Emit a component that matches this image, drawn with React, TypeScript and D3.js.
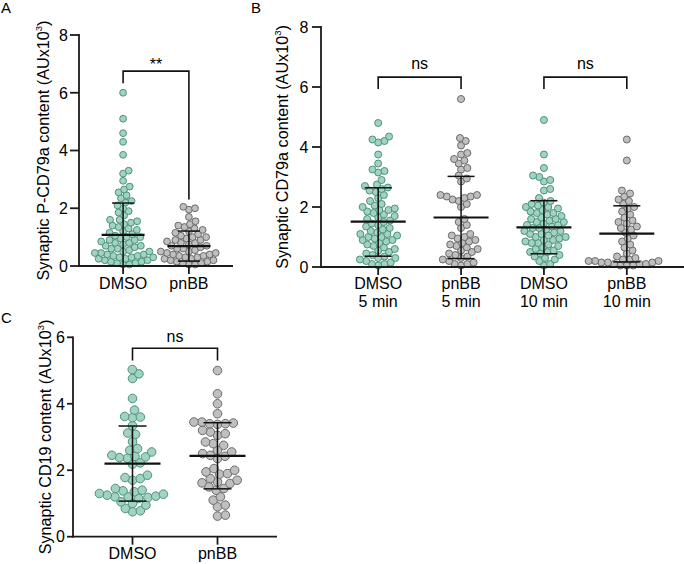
import React from "react";
import * as d3 from "d3";

const W = 684;
const H = 564;
const FONT = "'Liberation Sans', Arial, Helvetica, sans-serif";
const TEAL_FILL = "#a0d3c1";
const TEAL_STROKE = "#4f917b";
const GRAY_FILL = "#bfbfbf";
const GRAY_STROKE = "#6a6a6a";

// ---------- Panel A ----------
const catsA = ["DMSO", "pnBB"];
const aDMSO = [
  6.0, 5.1, 4.6, 4.3, 3.85, 3.3, 3.2, 2.95, 2.75, 2.65, 2.55, 2.45, 2.35, 2.25, 2.2, 2.1, 2.0, 1.9, 1.85,
  1.75, 1.6, 1.6, 1.55, 1.5, 1.45, 1.4, 1.35, 1.3, 1.25, 1.2, 1.15, 1.1, 1.05, 1.0, 1.0,
  0.95, 0.9, 0.9, 0.85, 0.8, 0.8, 0.75, 0.7, 0.7, 0.65, 0.6, 0.6, 0.55, 0.5, 0.5,
  0.45, 0.45, 0.4, 0.4, 0.35, 0.35, 0.3, 0.3, 0.3, 0.25, 0.25, 0.2, 0.2, 0.15, 0.15, 0.1, 0.1, 0.05, 0.05,
];
const aPNBB = [
  2.05, 2.0, 1.95, 1.7, 1.55, 1.45, 1.4, 1.35, 1.3, 1.25, 1.2, 1.15, 1.1, 1.05, 1.0, 1.0, 0.95, 0.9, 0.9,
  0.85, 0.8, 0.8, 0.75, 0.7, 0.7, 0.65, 0.6, 0.6, 0.55, 0.5, 0.5, 0.45, 0.45, 0.4, 0.4, 0.35, 0.35, 0.3,
  0.3, 0.25, 0.25, 0.2, 0.2, 0.15, 0.15, 0.1, 0.1, 0.05, 0.05,
];
const aMean = [1.08, 0.69];
const aSdLow = [0.0, 0.17];
const aSdHigh = [2.18, 1.21];
const aTicks = [0, 2, 4, 6, 8];

// ---------- Panel B ----------
const catsB = ["DMSO|5 min", "pnBB|5 min", "DMSO|10 min", "pnBB|10 min"];
const bDMSO5 = [
  4.8, 4.35, 4.25, 4.2, 4.15, 3.75, 3.45, 3.25, 3.2, 3.15, 2.9, 2.75, 2.7, 2.65, 2.6, 2.55, 2.5, 2.4,
  2.3, 2.2, 2.1, 2.05, 2.0, 1.95, 1.9, 1.9, 1.85, 1.8, 1.75, 1.7, 1.65, 1.6, 1.55, 1.5, 1.45, 1.4, 1.35,
  1.3, 1.25, 1.2, 1.15, 1.1, 1.1, 1.05, 1.0, 1.0, 0.95, 0.9, 0.9, 0.85, 0.8, 0.75, 0.7, 0.65, 0.6, 0.55,
  0.5, 0.45, 0.4, 0.35, 0.3, 0.3, 0.25, 0.2, 0.15, 0.1, 0.1, 0.05,
];
const bPNBB5 = [
  5.6, 4.3, 4.2, 4.05, 3.8, 3.75, 3.6, 3.55, 3.45, 3.3, 3.25, 3.05, 2.95, 2.85, 2.4, 2.4, 2.35, 2.35,
  2.3, 2.25, 2.2, 2.1, 2.0, 1.6, 1.5, 1.4, 1.3, 1.1, 1.05, 1.0, 0.95, 0.9, 0.85, 0.8, 0.75, 0.7, 0.65,
  0.6, 0.55, 0.5, 0.45, 0.4, 0.35, 0.3, 0.25, 0.2, 0.15, 0.1, 0.1, 0.05,
];
const bDMSO10 = [
  4.9, 3.75, 3.3, 3.05, 3.0, 2.9, 2.85, 2.6, 2.55, 2.3, 2.2, 2.15, 2.1, 2.05, 2.0, 2.0, 1.95, 1.9, 1.85,
  1.8, 1.8, 1.75, 1.7, 1.65, 1.6, 1.6, 1.55, 1.5, 1.5, 1.45, 1.4, 1.4, 1.35, 1.3, 1.3, 1.25, 1.2, 1.2,
  1.15, 1.1, 1.1, 1.05, 1.0, 1.0, 0.95, 0.9, 0.9, 0.85, 0.8, 0.8, 0.75, 0.7, 0.65, 0.6, 0.55, 0.5, 0.5,
  0.45, 0.4, 0.35, 0.3, 0.25, 0.2, 0.1, 0.05,
];
const bPNBB10 = [
  4.25, 3.55, 2.55, 2.45, 2.35, 2.25, 2.2, 2.1, 2.0, 1.95, 1.85, 1.75, 1.65, 1.55, 1.5, 1.45, 1.35, 1.3,
  1.25, 1.15, 1.05, 0.95, 0.85, 0.75, 0.65, 0.55, 0.45, 0.35, 0.3, 0.25, 0.25, 0.2, 0.2, 0.2, 0.15, 0.15,
  0.15, 0.1, 0.1, 0.1, 0.05, 0.05, 0.05,
];
const bMean = [1.51, 1.65, 1.32, 1.11];
const bSdLow = [0.36, 0.28, 0.44, 0.17];
const bSdHigh = [2.64, 3.02, 2.21, 2.04];
const bTicks = [0, 2, 4, 6, 8];

// ---------- Panel C ----------
const catsC = ["DMSO", "pnBB"];
const cDMSO = [
  5.03, 4.9, 4.76, 4.16, 3.81, 3.62, 3.6, 3.58, 3.34, 3.12, 3.08, 2.86, 2.65, 2.6, 2.55, 2.45, 2.42,
  2.4, 2.38, 2.36, 2.22, 2.18, 1.85, 1.78, 1.75, 1.7, 1.45, 1.4, 1.38, 1.35, 1.3, 1.28, 1.25, 1.22, 1.2,
  1.2, 1.18, 1.15, 1.05, 1.0, 0.95, 0.85, 0.78, 0.75,
];
const cPNBB = [
  5.0, 4.3, 4.0, 3.7, 3.45, 3.45, 3.42, 3.4, 3.4, 3.38, 3.2, 3.15, 3.1, 3.05, 2.85, 2.8, 2.75, 2.6,
  2.55, 2.5, 2.45, 2.42, 2.35, 2.05, 2.0, 1.95, 1.9, 1.88, 1.75, 1.7, 1.65, 1.62, 1.6, 1.5, 1.45, 1.4,
  1.2, 1.1, 0.95, 0.9, 0.65, 0.62,
];
const cMean = [2.2, 2.43];
const cSdLow = [1.07, 1.44];
const cSdHigh = [3.33, 3.43];
const cTicks = [0, 2, 4, 6];

type Pt = { x: number; y: number };

function swarm(values: number[], y: d3.ScaleLinear<number, number>, cx: number, spacing: number): Pt[] {
  const sorted = [...values].sort((a, b) => a - b);
  const placed: Pt[] = [];
  for (const v of sorted) {
    const py = y(v);
    const near = placed.filter((q) => Math.abs(q.y - py) < spacing);
    const cands = [0];
    for (const q of near) {
      const dy = q.y - py;
      const dx = Math.sqrt(Math.max(0, spacing * spacing - dy * dy));
      cands.push(q.x - cx + dx + 0.01, q.x - cx - dx - 0.01);
    }
    cands.sort((a, b) => Math.abs(a) - Math.abs(b));
    let best = 0;
    for (const c of cands) {
      const ok = near.every((q) => Math.hypot(q.x - (cx + c), q.y - py) >= spacing - 0.001);
      if (ok) {
        best = c;
        break;
      }
    }
    placed.push({ x: cx + best, y: py });
  }
  return placed;
}

type Bracket = {
  from: number;
  to: number;
  top: number;
  leftEnd: number;
  rightEnd: number;
  label: string;
  gap: number;
};

type PanelProps = {
  letter: string;
  letterX: number;
  letterY: number;
  cats: string[];
  groups: number[][];
  means: number[];
  sdLow: number[];
  sdHigh: number[];
  colors: { fill: string; stroke: string }[];
  ticks: number[];
  yTop: number;
  yBottom: number;
  xLeft: number;
  xRight: number;
  padding: number;
  r: number;
  meanHalf: number;
  capHalf: number;
  title: string;
  titleX: number;
  catGap: number;
  tickLen: number;
  labelGap: number;
  brackets: Bracket[];
};

const TICK_FS = 16;
const TITLE_FS = 16.2;

function Panel(p: PanelProps) {
  const yMax = p.ticks[p.ticks.length - 1];
  const y = d3.scaleLinear().domain([0, yMax]).range([p.yBottom, p.yTop]);
  const x = d3.scalePoint<string>().domain(p.cats).range([p.xLeft, p.xRight]).padding(p.padding);
  const axisColor = "#1a1a1a";
  const titleCenter = (p.yTop + p.yBottom) / 2;
  return (
    <g>
      <text x={p.letterX} y={p.letterY} fontSize={15} fontFamily={FONT} fill="#000">
        {p.letter}
      </text>
      {/* points */}
      {p.groups.map((vals, gi) => {
        const cx = x(p.cats[gi]) as number;
        const pts = swarm(vals, y, cx, p.r * 2 * 0.92);
        return (
          <g key={gi}>
            {pts.map((pt, i) => (
              <circle
                key={i}
                cx={pt.x}
                cy={pt.y}
                r={p.r}
                fill={p.colors[gi].fill}
                stroke={p.colors[gi].stroke}
                strokeWidth={1}
              />
            ))}
          </g>
        );
      })}
      {/* mean and SD */}
      {p.cats.map((c, gi) => {
        const cx = x(c) as number;
        return (
          <g key={c} stroke="#111" fill="none">
            <line x1={cx} x2={cx} y1={y(p.sdLow[gi])} y2={y(p.sdHigh[gi])} strokeWidth={1.5} />
            <line x1={cx - p.capHalf} x2={cx + p.capHalf} y1={y(p.sdLow[gi])} y2={y(p.sdLow[gi])} strokeWidth={1.5} />
            <line x1={cx - p.capHalf} x2={cx + p.capHalf} y1={y(p.sdHigh[gi])} y2={y(p.sdHigh[gi])} strokeWidth={1.5} />
            <line x1={cx - p.meanHalf} x2={cx + p.meanHalf} y1={y(p.means[gi])} y2={y(p.means[gi])} strokeWidth={2.2} />
          </g>
        );
      })}
      {/* y axis */}
      <line x1={p.xLeft} x2={p.xLeft} y1={y(yMax) - 0.9} y2={y(0) + 0.9} stroke={axisColor} strokeWidth={1.8} />
      {p.ticks.map((t) => (
        <g key={t}>
          <line x1={p.xLeft - p.tickLen} x2={p.xLeft} y1={y(t)} y2={y(t)} stroke={axisColor} strokeWidth={1.8} />
          <text
            x={p.xLeft - p.labelGap}
            y={y(t)}
            dy="0.36em"
            textAnchor="end"
            fontSize={TICK_FS}
            fontFamily={FONT}
            fill="#000"
          >
            {t}
          </text>
        </g>
      ))}
      {/* x axis */}
      <line x1={p.xLeft - 0.9} x2={p.xRight} y1={y(0)} y2={y(0)} stroke={axisColor} strokeWidth={1.8} />
      {p.cats.map((c) => {
        const cx = x(c) as number;
        const lines = c.split("|");
        return (
          <g key={c}>
            <line x1={cx} x2={cx} y1={y(0)} y2={y(0) + 8} stroke={axisColor} strokeWidth={1.8} />
            {lines.map((ln, li) => (
              <text
                key={li}
                x={cx}
                y={y(0) + p.catGap + li * 17.5}
                textAnchor="middle"
                fontSize={TICK_FS}
                fontFamily={FONT}
                fill="#000"
              >
                {ln}
              </text>
            ))}
          </g>
        );
      })}
      {/* axis title */}
      <text
        transform={`translate(${p.titleX},${titleCenter}) rotate(-90)`}
        textAnchor="middle"
        fontSize={TITLE_FS}
        fontFamily={FONT}
        fill="#000"
      >
        {p.title}
        <tspan fontSize={9.5} dy={-7}>
          3
        </tspan>
        <tspan dy={7}>)</tspan>
      </text>
      {/* significance brackets */}
      {p.brackets.map((b, i) => {
        const x1 = x(p.cats[b.from]) as number;
        const x2 = x(p.cats[b.to]) as number;
        return (
          <g key={i}>
            <path
              d={`M${x1},${y(b.leftEnd)}V${y(b.top)}H${x2}V${y(b.rightEnd)}`}
              fill="none"
              stroke="#111"
              strokeWidth={1.6}
            />
            <text
              x={(x1 + x2) / 2}
              y={y(b.top) - b.gap}
              textAnchor="middle"
              fontSize={TICK_FS}
              fontFamily={FONT}
              fill="#000"
            >
              {b.label}
            </text>
          </g>
        );
      })}
    </g>
  );
}

const teal = { fill: TEAL_FILL, stroke: TEAL_STROKE };
const gray = { fill: GRAY_FILL, stroke: GRAY_STROKE };

export default function App() {
  return (
    <svg
      width={W}
      height={H}
      viewBox={`0 0 ${W} ${H}`}
      style={{ position: "absolute", left: 0, top: 0, background: "#fff" }}
    >
      <rect width={W} height={H} fill="#fff" />
      <Panel
        letter="A"
        letterX={1}
        letterY={13}
        cats={catsA}
        groups={[aDMSO, aPNBB]}
        means={aMean}
        sdLow={aSdLow}
        sdHigh={aSdHigh}
        colors={[teal, gray]}
        ticks={aTicks}
        yTop={35}
        yBottom={266}
        xLeft={79}
        xRight={233}
        padding={0.67}
        r={3.4}
        meanHalf={21.5}
        capHalf={11}
        title="Synaptic P-CD79a content (AUx10"
        titleX={49}
        catGap={23}
        tickLen={9}
        labelGap={11}
        brackets={[{ from: 0, to: 1, top: 6.75, leftEnd: 6.33, rightEnd: 2.3, label: "**", gap: 1 }]}
      />
      <Panel
        letter="B"
        letterX={251}
        letterY={13}
        cats={catsB}
        groups={[bDMSO5, bPNBB5, bDMSO10, bPNBB10]}
        means={bMean}
        sdLow={bSdLow}
        sdHigh={bSdHigh}
        colors={[teal, gray, teal, gray]}
        ticks={bTicks}
        yTop={27}
        yBottom={267}
        xLeft={321}
        xRight={684}
        padding={0.69}
        r={3.5}
        meanHalf={27.5}
        capHalf={13.5}
        title="Synaptic CD79a content (AUx10"
        titleX={288}
        catGap={22}
        tickLen={9}
        labelGap={12.5}
        brackets={[
          { from: 0, to: 1, top: 6.33, leftEnd: 5.93, rightEnd: 5.93, label: "ns", gap: 8 },
          { from: 2, to: 3, top: 6.33, leftEnd: 5.93, rightEnd: 5.93, label: "ns", gap: 8 },
        ]}
      />
      <Panel
        letter="C"
        letterX={1}
        letterY={323}
        cats={catsC}
        groups={[cDMSO, cPNBB]}
        means={cMean}
        sdLow={cSdLow}
        sdHigh={cSdHigh}
        colors={[teal, gray]}
        ticks={cTicks}
        yTop={337.3}
        yBottom={536.7}
        xLeft={73}
        xRight={277}
        padding={0.7}
        r={4.3}
        meanHalf={28}
        capHalf={14}
        title="Synaptic CD19 content (AUx10"
        titleX={50.5}
        catGap={22.5}
        tickLen={6}
        labelGap={8}
        brackets={[{ from: 0, to: 1, top: 5.67, leftEnd: 5.3, rightEnd: 5.3, label: "ns", gap: 6 }]}
      />
    </svg>
  );
}
